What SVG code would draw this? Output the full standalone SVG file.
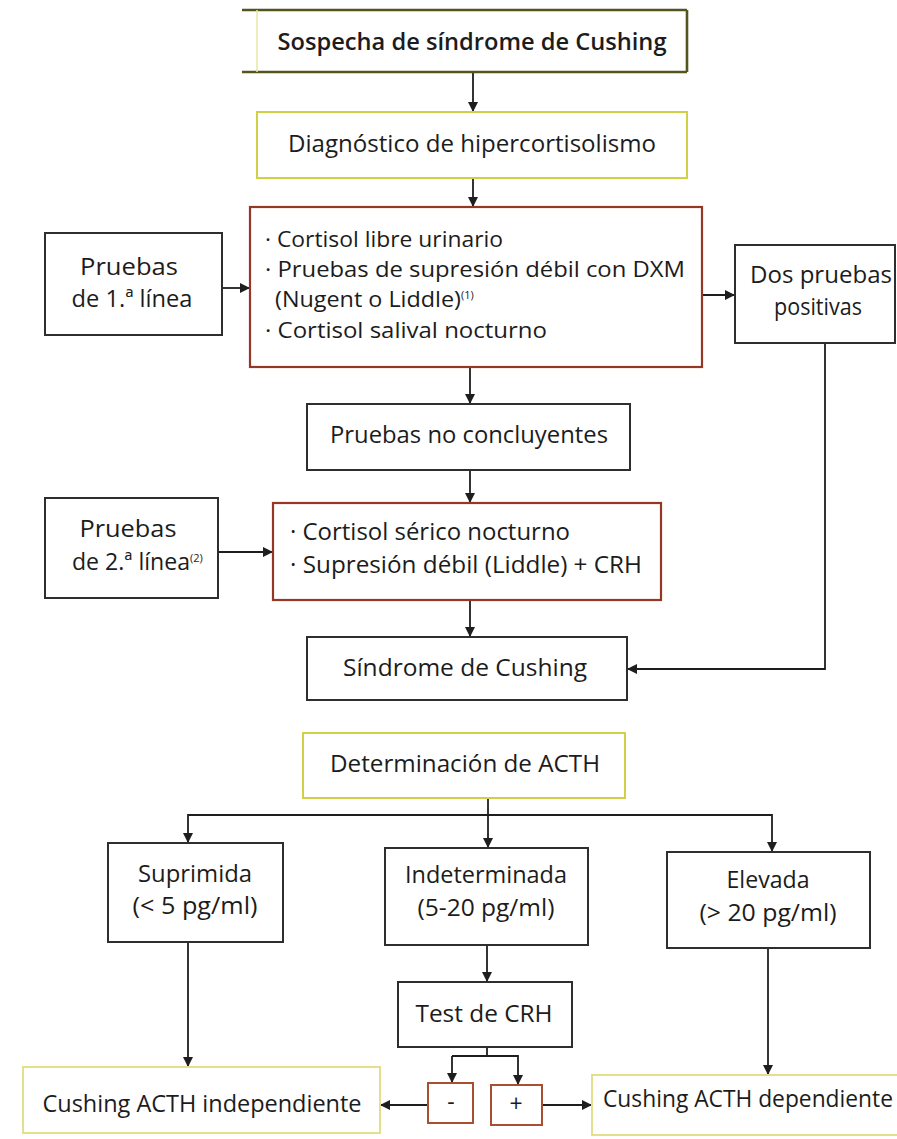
<svg xmlns="http://www.w3.org/2000/svg" width="897" height="1139" viewBox="0 0 897 1139">
  <defs>
    <marker id="arrow" viewBox="0 0 10 10" refX="10" refY="5" markerWidth="10" markerHeight="10" markerUnits="userSpaceOnUse" orient="auto">
      <path d="M0,0 L10,5 L0,10 z" fill="#1e1e1e"/>
    </marker>
    <style>
      text { font-family: "Open Sans", "Noto Sans", "Liberation Sans", sans-serif; font-size: 23px; fill: #1c1c1c; }
      .c { text-anchor: middle; }
      .b { font-weight: 600; }
      .sm { font-size: 21.5px; }
      .sup { font-size: 11px; }
      rect { fill: #fff; }
      .plain { stroke: #2e2e2e; stroke-width: 2; }
      .yellow { stroke: #cfd044; stroke-width: 2; }
      .pale { stroke: #e4df8a; stroke-width: 2; }
      .red { stroke: #953626; stroke-width: 2.2; }
      .rust { stroke: #a94f30; stroke-width: 2; }
      .olive { stroke: #55541f; stroke-width: 2.6; }
      .conn { fill: none; stroke: #1e1e1e; stroke-width: 1.8; }
    </style>
  </defs>

  <rect width="897" height="1139" fill="#fff"/>

  <g id="connectors">
    <line class="conn" x1="473" y1="72" x2="473" y2="112" marker-end="url(#arrow)"/>
    <line class="conn" x1="473" y1="178" x2="473" y2="207" marker-end="url(#arrow)"/>
    <line class="conn" x1="222" y1="288" x2="250" y2="288" marker-end="url(#arrow)"/>
    <line class="conn" x1="702" y1="295" x2="735" y2="295" marker-end="url(#arrow)"/>
    <line class="conn" x1="470" y1="367" x2="470" y2="404" marker-end="url(#arrow)"/>
    <line class="conn" x1="470" y1="470" x2="470" y2="503" marker-end="url(#arrow)"/>
    <line class="conn" x1="218" y1="552" x2="273" y2="552" marker-end="url(#arrow)"/>
    <line class="conn" x1="470" y1="600" x2="470" y2="637" marker-end="url(#arrow)"/>
    <polyline class="conn" points="825,343 825,669 627,669" marker-end="url(#arrow)"/>
    <!-- ACTH branching -->
    <line class="conn" x1="488" y1="798" x2="488" y2="848" marker-end="url(#arrow)"/>
    <polyline class="conn" points="488,815 188,815 188,843" marker-end="url(#arrow)"/>
    <polyline class="conn" points="488,815 772,815 772,852" marker-end="url(#arrow)"/>
    <line class="conn" x1="188" y1="942" x2="188" y2="1067" marker-end="url(#arrow)"/>
    <line class="conn" x1="768" y1="948" x2="768" y2="1075" marker-end="url(#arrow)"/>
    <line class="conn" x1="487" y1="945" x2="487" y2="982" marker-end="url(#arrow)"/>
    <!-- CRH test split -->
    <line class="conn" x1="487" y1="1047" x2="487" y2="1056"/>
    <polyline class="conn" points="452,1056 518,1056 518,1085" marker-end="url(#arrow)"/>
    <line class="conn" x1="452" y1="1056" x2="452" y2="1083" marker-end="url(#arrow)"/>
    <line class="conn" x1="428" y1="1105" x2="380" y2="1105" marker-end="url(#arrow)"/>
    <line class="conn" x1="542" y1="1105" x2="592" y2="1105" marker-end="url(#arrow)"/>
  </g>

  <g id="sospecha">
    <line class="olive" x1="242" y1="10" x2="687" y2="10"/>
    <line class="olive" x1="242" y1="72" x2="687" y2="72"/>
    <line x1="257" y1="10" x2="257" y2="72" stroke="#e8e6a0" stroke-width="1.5"/>
    <line class="olive" x1="687" y1="10" x2="687" y2="72"/>
    <text x="472" y="50" class="c b" textLength="389" lengthAdjust="spacingAndGlyphs">Sospecha de síndrome de Cushing</text>
  </g>

  <g id="diagnostico">
    <rect class="yellow" x="257" y="112" width="430" height="66"/>
    <text x="472" y="152" class="c" textLength="368" lengthAdjust="spacingAndGlyphs">Diagnóstico de hipercortisolismo</text>
  </g>

  <g id="pruebas-primera">
    <rect class="plain" x="45" y="233" width="177" height="102"/>
    <text x="129" y="275" class="c" textLength="98" lengthAdjust="spacingAndGlyphs">Pruebas</text>
    <text x="132" y="307" class="c" textLength="121" lengthAdjust="spacingAndGlyphs">de 1.ª línea</text>
  </g>

  <g id="pruebas-lista">
    <rect class="red" x="250" y="207" width="452" height="160"/>
    <text x="265" y="247" class="sm" textLength="238" lengthAdjust="spacingAndGlyphs">· Cortisol libre urinario</text>
    <text x="265" y="277" class="sm" textLength="420" lengthAdjust="spacingAndGlyphs">· Pruebas de supresión débil con DXM</text>
    <text x="275" y="307" class="sm"><tspan textLength="186" lengthAdjust="spacingAndGlyphs">(Nugent o Liddle)</tspan><tspan class="sup" dy="-8">(1)</tspan></text>
    <text x="265" y="338" class="sm" textLength="282" lengthAdjust="spacingAndGlyphs">· Cortisol salival nocturno</text>
  </g>

  <g id="dos-positivas">
    <rect class="plain" x="735" y="245" width="160" height="98"/>
    <text x="821" y="283" class="c" textLength="142" lengthAdjust="spacingAndGlyphs">Dos pruebas</text>
    <text x="818" y="315" class="c" textLength="88" lengthAdjust="spacingAndGlyphs">positivas</text>
  </g>

  <g id="no-concluyentes">
    <rect class="plain" x="307" y="404" width="323" height="66"/>
    <text x="469" y="443" class="c" textLength="278" lengthAdjust="spacingAndGlyphs">Pruebas no concluyentes</text>
  </g>

  <g id="pruebas-segunda">
    <rect class="plain" x="45" y="498" width="173" height="100"/>
    <text x="128" y="537" class="c" textLength="97" lengthAdjust="spacingAndGlyphs">Pruebas</text>
    <text x="72" y="570"><tspan textLength="118" lengthAdjust="spacingAndGlyphs">de 2.ª línea</tspan><tspan class="sup" dy="-8">(2)</tspan></text>
  </g>

  <g id="segunda-lista">
    <rect class="red" x="273" y="503" width="388" height="97"/>
    <text x="290" y="540" textLength="280" lengthAdjust="spacingAndGlyphs">· Cortisol sérico nocturno</text>
    <text x="290" y="573" textLength="352" lengthAdjust="spacingAndGlyphs">· Supresión débil (Liddle) + CRH</text>
  </g>

  <g id="sindrome">
    <rect class="plain" x="307" y="637" width="320" height="63"/>
    <text x="465" y="676" class="c" textLength="244" lengthAdjust="spacingAndGlyphs">Síndrome de Cushing</text>
  </g>

  <g id="determinacion">
    <rect class="yellow" x="303" y="733" width="322" height="65"/>
    <text x="465" y="772" class="c" textLength="270" lengthAdjust="spacingAndGlyphs">Determinación de ACTH</text>
  </g>

  <g id="suprimida">
    <rect class="plain" x="108" y="843" width="175" height="99"/>
    <text x="195" y="882" class="c" textLength="114" lengthAdjust="spacingAndGlyphs">Suprimida</text>
    <text x="195" y="914" class="c" textLength="125" lengthAdjust="spacingAndGlyphs">(&lt; 5 pg/ml)</text>
  </g>

  <g id="indeterminada">
    <rect class="plain" x="385" y="848" width="203" height="97"/>
    <text x="486" y="883" class="c" textLength="162" lengthAdjust="spacingAndGlyphs">Indeterminada</text>
    <text x="486" y="916" class="c" textLength="137" lengthAdjust="spacingAndGlyphs">(5-20 pg/ml)</text>
  </g>

  <g id="elevada">
    <rect class="plain" x="667" y="852" width="203" height="96"/>
    <text x="768" y="888" class="c" textLength="83" lengthAdjust="spacingAndGlyphs">Elevada</text>
    <text x="768" y="921" class="c" textLength="137" lengthAdjust="spacingAndGlyphs">(&gt; 20 pg/ml)</text>
  </g>

  <g id="test-crh">
    <rect class="plain" x="398" y="982" width="174" height="65"/>
    <text x="484" y="1022" class="c" textLength="137" lengthAdjust="spacingAndGlyphs">Test de CRH</text>
  </g>

  <g id="negativo">
    <rect class="rust" x="428" y="1083" width="45" height="40"/>
    <text x="451" y="1110" class="c">-</text>
  </g>

  <g id="positivo">
    <rect class="rust" x="491" y="1085" width="51" height="40"/>
    <text x="516" y="1112" class="c">+</text>
  </g>

  <g id="independiente">
    <rect class="pale" x="23" y="1067" width="357" height="66"/>
    <text x="202" y="1112" class="c" textLength="319" lengthAdjust="spacingAndGlyphs">Cushing ACTH independiente</text>
  </g>

  <g id="dependiente">
    <rect class="pale" x="592" y="1075" width="320" height="60"/>
    <text x="603" y="1107" textLength="290" lengthAdjust="spacingAndGlyphs">Cushing ACTH dependiente</text>
  </g>
</svg>
